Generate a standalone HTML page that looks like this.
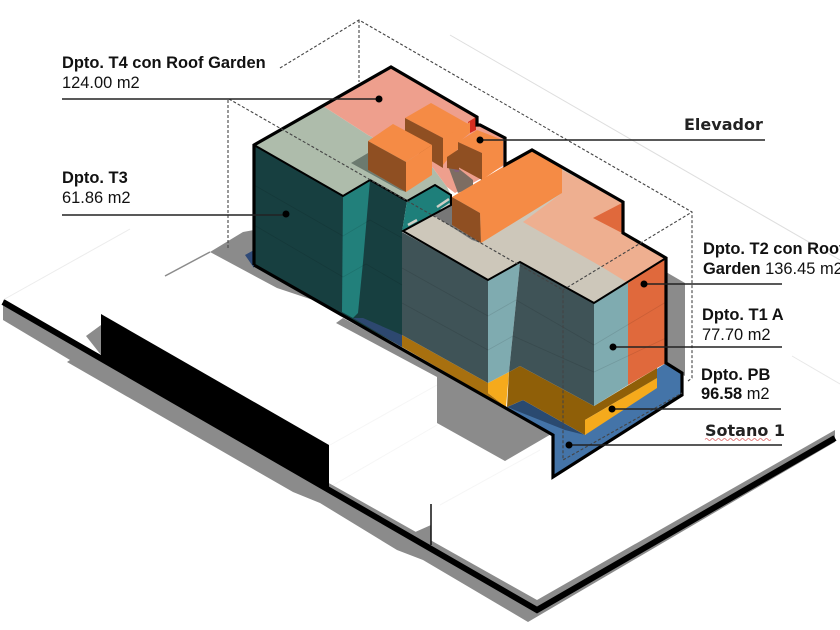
<!DOCTYPE html>
<html><head><meta charset="utf-8"><style>
html,body{margin:0;padding:0;background:#fff;width:840px;height:630px;overflow:hidden}
svg{display:block;filter:blur(.35px)}
.a{font-family:"Liberation Sans",Arial,sans-serif;font-size:16.45px;fill:#111}
.b{font-weight:bold}
.d{font-family:"DejaVu Sans",sans-serif;font-size:16px;font-weight:bold;fill:#222}
.L{stroke:#222;stroke-width:1.6;fill:none}
.k{stroke:#444;stroke-width:1.1;stroke-dasharray:3 2;fill:none}
.h{stroke:#000;stroke-opacity:.1;stroke-width:.8;fill:none}
</style></head><body>
<svg width="840" height="630" viewBox="0 0 840 630" xmlns="http://www.w3.org/2000/svg">
<!-- faint ground lines -->
<g fill="none" stroke-width="1">
<path d="M3 300L130 229" stroke="#ececec"/><path d="M450 35L840 260" stroke="#dedede"/><path d="M792 356L840 384" stroke="#e8e8e8"/>
<path d="M330 445L437 385M330 487L437 425M440 505L540 450" stroke="#f6f6f6"/></g>
<!-- ground shadows -->
<g fill="#8b8b8b">
<path d="M3 300V320L70 360L67 362L293 492L320 503L397 550L423 560L528 622L835 442V430L537 600Z"/>
<path d="M210 252L243 232L254 230V266L342 317L337 308L277 288Z"/>
<path d="M336 323L343 318L507 407L553 433L505 461L437 423V377Z"/>
<path d="M86 336L101 325V355Z"/>
<path d="M413 533L431 525V545Z"/>
<path d="M666 272L685 283V376L666 366Z"/>
</g>
<path d="M165 276L210 252" stroke="#8b8b8b" stroke-width="1.5"/>
<!-- ground black line + wall -->
<path d="M3 302L537 610L835 438" fill="none" stroke="#000" stroke-width="6"/>
<path d="M101 314L329 445V490L101 357Z" fill="#000"/>
<path d="M431 504V545" stroke="#111" stroke-width="1.5"/>
<!-- blue basement -->
<path d="M507 407L553 435V477L682 395V373L666 363L640 380L585 435Z" fill="#4474a8"/>
<path d="M507 407L523 400L585 435L565 430Z" fill="#2a4a70"/>
<path d="M245 255L254 250V268Z" fill="#2f4a78"/>
<!-- T3 dark teal -->
<path d="M254 145L343 196L370 180L407 201L402 232V347L254 265Z" fill="#173f40"/>
<path d="M343 196L370 180L363 262L358 313L353 318L342 312Z" fill="#22807b"/>
<path d="M353 318L363 318L402 335V347Z" fill="#2d4870"/>
<path d="M407 201L435 185L451 195V205L403 231L402 232Z" fill="#1e7f7a"/>
<path d="M437 207L449 199M441 210L450 204M408 225L417 220" stroke="#cfcfc7" stroke-width="2.5" fill="none"/>
<!-- amber -->
<path d="M402 335L488 383V393L506 407L402 347Z" fill="#a8700f"/>
<path d="M488 383L509 372L506 407L488 393Z" fill="#f5aa1c"/>
<path d="M509 372L520 366L594 406L657 368V378L585 420V435L523 400L507 407Z" fill="#8f5f08"/>
<path d="M585 420L657 378V388L585 435Z" fill="#f5aa1c"/>
<!-- slate faces -->
<path d="M402 232L488 280V383L402 335Z" fill="#3f5357"/>
<path d="M488 280L520 263L509 372L488 383Z" fill="#7fabb0"/>
<path d="M520 263L594 303V406L520 366L509 372Z" fill="#3f5357"/>
<path d="M594 303L628 283V385L594 406Z" fill="#7fabb0"/>
<path d="M628 283L666 258V363L657 368L628 385Z" fill="#e0693c"/>
<!-- level lines -->
<g class="h"><path d="M254 185L343 236L370 220L402 238M254 225L343 277L366 264L402 285M402 268L488 316L516 300L594 345L666 302M402 303L488 350L513 336L594 372L666 338"/></g>
<!-- roofs -->
<path d="M254 145L323 106L368 135L433 168L447 187L451 195L435 185L407 201L370 180L343 196Z" fill="#aebcab"/>
<path d="M323 106L391 67L477 117V125L505 138V165L455 193L447 187L433 168L368 135Z" fill="#ee9f8d"/>
<path d="M468 122L476 117V130L470 133Z" fill="#d62d20"/>
<path d="M451 205L480 190L532 150L623 202V233L666 258L628 283L594 303L520 262L488 280L403 231Z" fill="#cdc7ba"/>
<path d="M562 170L623 202V233L666 258L628 283L602 267L523 222L562 193Z" fill="#eeaf90"/>
<path d="M593 218L622 203V233Z" fill="#e0693c"/>
<!-- block shadows -->
<path d="M351 163L368 153V170L406 192L400 190Z" fill="#6c7a6f"/>
<path d="M433 215L452 205V225L481 243L472 240Z" fill="#777"/>
<path d="M447 163L458 168L473 180V187L458 193Z" fill="#7d6d62"/>
<path d="M447 160L459 160V172L455 172Z" fill="#80617a"/>
<!-- block 2 -->
<path d="M405 118L431 103L470 125L443 138Z" fill="#f58b45"/>
<path d="M443 138L470 122V133L459 142V148L447 160L443 165Z" fill="#f58b45"/>
<path d="M405 118L443 138V168L405 145Z" fill="#8f4f22"/>
<!-- tower -->
<path d="M447 157L459 149V170L447 168Z" fill="#8f4f22"/>
<path d="M458 142L477 130L503 140V165L482 180L482 153Z" fill="#f58b45"/>
<path d="M458 142L482 153V180L458 167Z" fill="#8f4f22"/>
<!-- block 1 -->
<path d="M368 141L393 124L432 145L406 162Z" fill="#f58b45"/>
<path d="M406 162L432 145V175L406 192Z" fill="#f58b45"/>
<path d="M368 141L406 162V192L368 170Z" fill="#8f4f22"/>
<!-- big block -->
<path d="M452 197L532 150L562 168V193L481 243L480 213Z" fill="#f58b45"/>
<path d="M452 197L480 213L481 243L452 225Z" fill="#8f4f22"/>
<!-- outlines -->
<g fill="none" stroke="#000" stroke-linejoin="miter">
<path d="M254 265V145L391 67L477 117V125L480 125L505 138V165L532 150L623 202V233L666 258V363L682 373V395L553 477V435L254 265" stroke-width="3.2"/>
<path d="M254 145L343 196L370 180L407 201L435 185L451 195V205L403 231L488 280L520 262L594 303L666 258" stroke-width="2"/>
</g>
<!-- dotted box -->
<g class="k">
<path d="M280 68L359 20L692 212V378L688 381"/>
<path d="M359 20V82"/>
<path d="M229 99L563 290V460L682 393"/>
<path d="M228 100V250"/>
<path d="M563 290L692 212"/>
</g>
<!-- leaders -->
<g class="L">
<path d="M62 99H379"/><path d="M480 140H765"/>
<path d="M62 215H286"/><path d="M644 284H782"/><path d="M613 347H782"/><path d="M612 409H781"/><path d="M569 445H782"/>
</g>
<g fill="#000">
<circle cx="379" cy="99" r="3.5"/><circle cx="480" cy="140" r="3.5"/><circle cx="286" cy="214" r="3.5"/>
<circle cx="644" cy="284" r="3.5"/><circle cx="613" cy="347" r="3.5"/><circle cx="612" cy="409" r="3.5"/><circle cx="569" cy="445" r="3.5"/>
</g>
<!-- labels -->
<text class="a b" x="62" y="68">Dpto. T4 con Roof Garden</text>
<text class="a" x="62" y="88">124.00 m2</text>
<text class="d" x="684" y="130">Elevador</text>
<text class="a b" x="62" y="183">Dpto. T3</text>
<text class="a" x="62" y="203">61.86 m2</text>
<text class="a b" x="703" y="254">Dpto. T2 con Roof</text>
<text class="a" x="703" y="274"><tspan class="b">Garden</tspan> 136.45 m2</text>
<text class="a b" x="702" y="320">Dpto. T1 A</text>
<text class="a" x="702" y="340">77.70 m2</text>
<text class="a b" x="701" y="380">Dpto. PB</text>
<text class="a" x="701" y="399"><tspan class="b">96.58</tspan> m2</text>
<text class="d" x="705" y="436">Sotano 1</text>
<path d="M705 439.500q1.500 -2 3 0t3 0t3 0t3 0t3 0t3 0t3 0t3 0t3 0t3 0t3 0t3 0t3 0t3 0t3 0t3 0t3 0t3 0t3 0t3 0t3 0t3 0" fill="none" stroke="#e06b6b" stroke-width=".8"/>
</svg>
</body></html>
